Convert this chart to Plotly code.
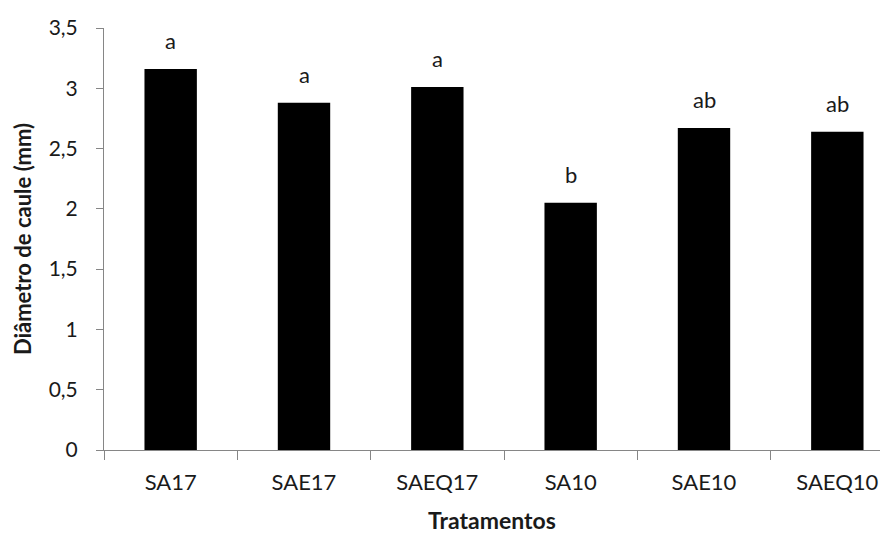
import plotly.graph_objects as go

categories = ["SA17", "SAE17", "SAEQ17", "SA10", "SAE10", "SAEQ10"]
values = [3.16, 2.88, 3.01, 2.05, 2.67, 2.64]
letters = ["a", "a", "a", "b", "ab", "ab"]
y_ticks = [0, 0.5, 1, 1.5, 2, 2.5, 3, 3.5]

FONT = "Lato"
AXIS_GREY = "#868686"
TXT = "#1a1a1a"

fig = go.Figure()
fig.add_trace(go.Bar(
    x=categories, y=values, width=0.393,
    marker=dict(color="#000000", line=dict(width=0)),
    hoverinfo="x+y",
))

for c, v, t in zip(categories, values, letters):
    fig.add_annotation(x=c, y=v, text=t, showarrow=False, xanchor="center",
                       yanchor="bottom", yshift=13,
                       font=dict(family=FONT, size=22, color=TXT))

fig.update_layout(
    width=880, height=535,
    margin=dict(l=104, r=0, t=28, b=85, pad=0),
    paper_bgcolor="white", plot_bgcolor="white",
    separators=", ",
    showlegend=False,
    font=dict(family=FONT, color=TXT),
    xaxis=dict(
        type="category", range=[-0.5, 5.32], tickson="boundaries",
        showline=True, linecolor=AXIS_GREY, linewidth=1,
        ticks="outside", ticklen=9, tickcolor=AXIS_GREY, tickwidth=1,
        showgrid=False, zeroline=False,
        tickfont=dict(family=FONT, size=22, color=TXT),
        ticklabelstandoff=13,
        title=dict(text="<b>Tratamentos</b>", font=dict(family=FONT, size=23, color=TXT), standoff=18),
    ),
    yaxis=dict(
        range=[0, 3.5], tickvals=y_ticks,
        showline=True, linecolor=AXIS_GREY, linewidth=1,
        ticks="outside", ticklen=7, tickcolor=AXIS_GREY, tickwidth=1,
        showgrid=False, zeroline=False,
        tickfont=dict(family=FONT, size=21, color=TXT),
        ticklabelstandoff=14,
        title=dict(text="<b>Diâmetro de caule (mm)</b>", font=dict(family=FONT, size=22, color=TXT), standoff=10),
    ),
)

fig.write_html("out.html")
